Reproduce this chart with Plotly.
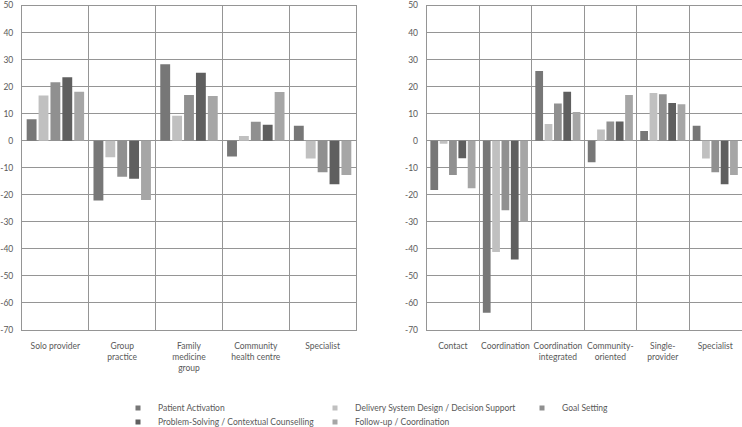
import plotly.graph_objects as go

# practice types (left panel) and care models (right panel)
LEFT_CATS = ["Solo provider", "Group<br>practice", "Family<br>medicine<br>group",
             "Community<br>health centre", "Specialist"]
RIGHT_CATS = ["Contact", "Coordination", "Coordination<br>integrated",
              "Community-<br>oriented", "Single-<br>provider", "Specialist"]

SERIES = ["Patient Activation", "Delivery System Design / Decision Support", "Goal Setting",
          "Problem-Solving / Contextual Counselling", "Follow-up / Coordination"]
COLORS = ["#777777", "#c0c0c0", "#909090", "#5f5f5f", "#a6a6a6"]

# values, one list per series
LEFT_PA = [7.9, -22.1, 28.3, -5.8, 5.5]
LEFT_DSD = [16.7, -6.1, 9.2, 1.7, -6.6]
LEFT_GS = [21.6, -13.3, 16.9, 7.0, -11.7]
LEFT_PS = [23.5, -14.1, 25.1, 5.9, -16.1]
LEFT_FU = [18.1, -21.9, 16.5, 18.0, -12.7]

RIGHT_PA = [-18.2, -63.6, 25.8, -8.0, 3.6, 5.5]
RIGHT_DSD = [-1.1, -41.2, 6.2, 4.1, 17.6, -6.6]
RIGHT_GS = [-12.7, -25.7, 13.8, 7.1, 17.2, -11.7]
RIGHT_PS = [-6.5, -43.9, 18.1, 7.1, 13.9, -16.1]
RIGHT_FU = [-17.6, -30.0, 10.6, 16.9, 13.5, -12.7]

LEFT = [LEFT_PA, LEFT_DSD, LEFT_GS, LEFT_PS, LEFT_FU]
RIGHT = [RIGHT_PA, RIGHT_DSD, RIGHT_GS, RIGHT_PS, RIGHT_FU]

# y ticks with plain hyphen minus, as in the original
Y_TICKS = [50, 40, 30, 20, 10, 0, -10, -20, -30, -40, -50, -60, -70]
Y_LABELS = ["50", "40", "30", "20", "10", "0", "-10", "-20", "-30", "-40", "-50", "-60", "-70"]

# one small legend per entry: (text left px, text centre y px), 3 columns x 2 rows
LEGEND_POS = [(158, 408), (355, 408), (562, 408), (158, 422), (355, 422)]

FONT = "Lato, 'Open Sans', sans-serif"
TXT = "#595959"
GRID = "#959595"
W, H = 742, 427

fig = go.Figure()
for i, name in enumerate(SERIES):
    fig.add_trace(go.Bar(x=LEFT_CATS, y=LEFT[i], name=name, marker_color=COLORS[i],
                         marker_line_width=0, showlegend=False, legendgroup=name,
                         xaxis="x", yaxis="y"))
    fig.add_trace(go.Bar(x=RIGHT_CATS, y=RIGHT[i], name=name, marker_color=COLORS[i],
                         marker_line_width=0, showlegend=False, legendgroup=name,
                         xaxis="x2", yaxis="y2"))

# small square legend markers, each in its own legend box
for i, name in enumerate(SERIES):
    leg = "legend" if i == 0 else f"legend{i + 1}"
    fig.add_trace(go.Scatter(x=[None], y=[None], mode="markers", name=name,
                             marker=dict(symbol="square", size=5, color=COLORS[i]),
                             legendgroup=name, legend=leg, xaxis="x", yaxis="y"))
    tx, ty = LEGEND_POS[i]
    fig.update_layout({leg: dict(
        orientation="v", xanchor="left", yanchor="middle",
        x=(tx - 40) / W, y=1 - ty / H, bgcolor="rgba(0,0,0,0)",
        font=dict(family=FONT, size=8.5, color=TXT), itemclick=False)})

axis_x = dict(type="category", tickson="boundaries", showgrid=True, gridcolor=GRID,
              gridwidth=1, showline=True, linecolor=GRID, mirror=True, ticks="",
              tickangle=0, ticklabelstandoff=8,
              tickfont=dict(family=FONT, size=8.5, color=TXT), fixedrange=True)
axis_y = dict(range=[-70, 50], tickvals=Y_TICKS, ticktext=Y_LABELS, showgrid=True,
              gridcolor=GRID, gridwidth=1, zeroline=True, zerolinecolor=GRID,
              zerolinewidth=1, showline=True, linecolor=GRID, mirror=True, ticks="",
              ticklabelstandoff=6,
              tickfont=dict(family=FONT, size=8.5, color=TXT), fixedrange=True)

fig.update_layout(
    template="none", width=W, height=H,
    paper_bgcolor="#ffffff", plot_bgcolor="#ffffff",
    margin=dict(l=0, r=0, t=0, b=0, autoexpand=False),
    font=dict(family=FONT, size=8.5, color=TXT),
    barmode="group", bargap=0.11, bargroupgap=0.17,
    xaxis=dict(axis_x, domain=[22 / W, 356 / W], anchor="y"),
    yaxis=dict(axis_y, domain=[1 - 330 / H, 1 - 5.5 / H], anchor="x"),
    xaxis2=dict(axis_x, domain=[426.7 / W, 741.5 / W], anchor="y2"),
    yaxis2=dict(axis_y, domain=[1 - 330 / H, 1 - 5.5 / H], anchor="x2"),
)

fig.write_html("out.html", config={"displayModeBar": False},
               post_script="document.body.style.margin='0';")
